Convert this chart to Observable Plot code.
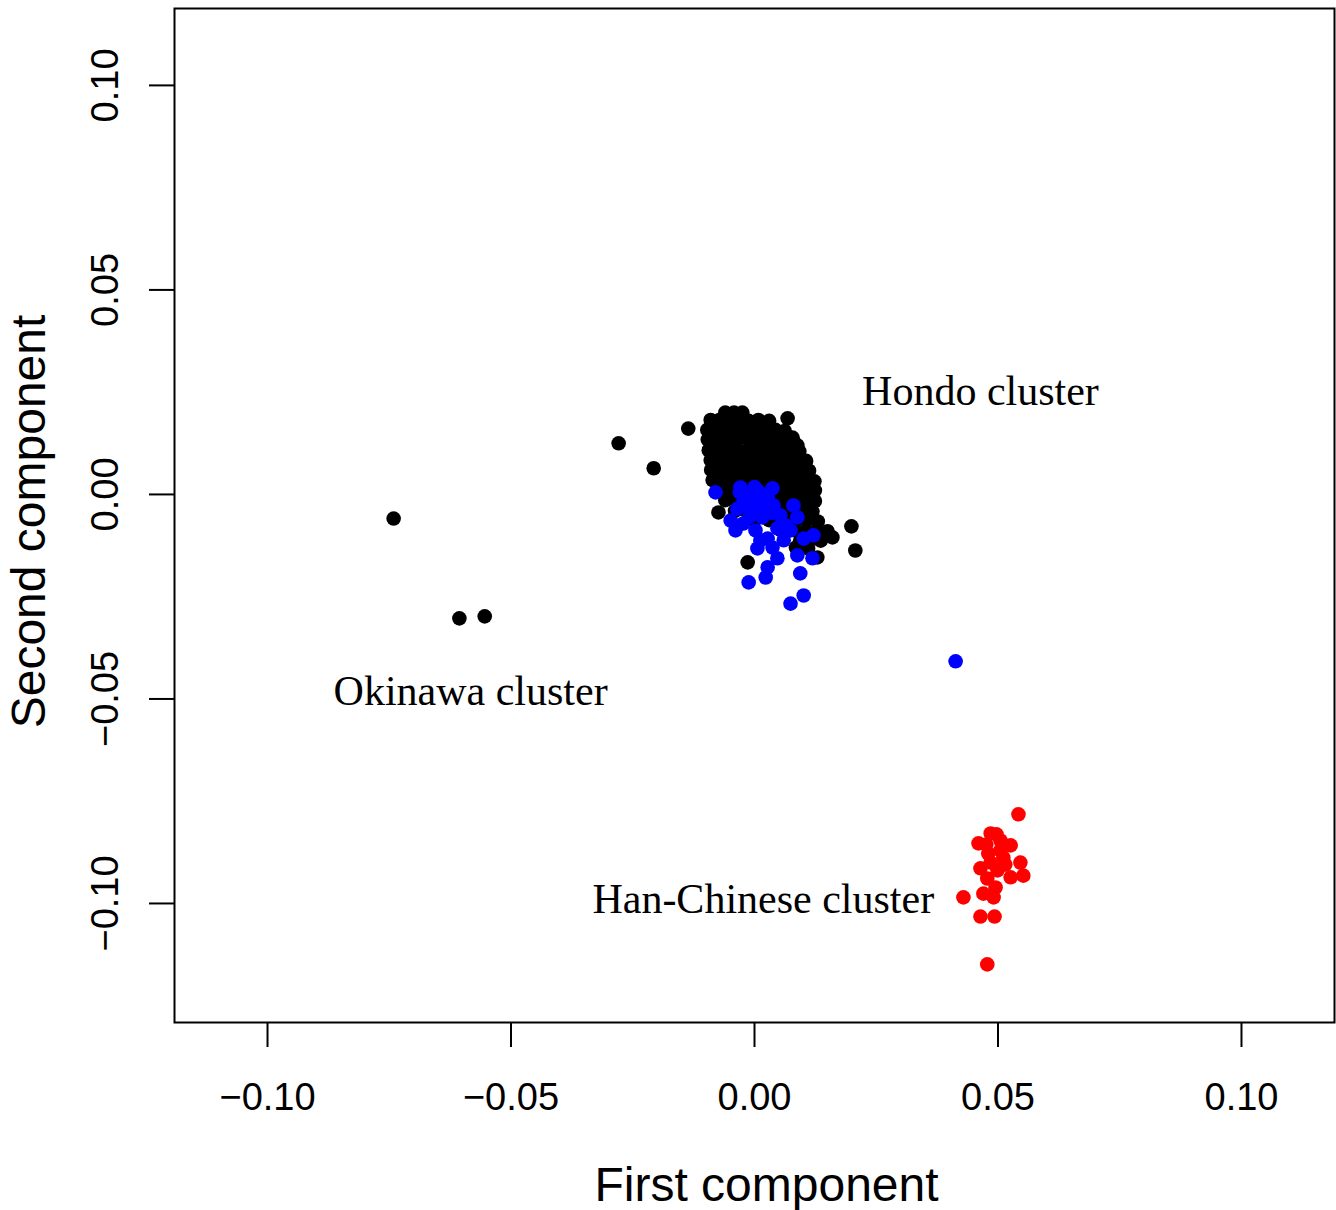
<!DOCTYPE html>
<html>
<head>
<meta charset="utf-8">
<script src="https://cdn.jsdelivr.net/npm/d3@7"></script>
<script src="https://cdn.jsdelivr.net/npm/@observablehq/plot@0.6"></script>
<style>
  html, body { margin: 0; padding: 0; background: #fff; }
  svg { display: block; }
</style>
</head>
<body>
<div id="chart"></div>
<script>
// ---- data (first component, second component) ----
const hondo = [
  [-0.0741,-0.0059],[-0.0606,-0.0303],[-0.0554,-0.0298],[-0.0279,0.0125],[-0.0207,0.0064],[-0.0136,0.0161],
  [0.0199,-0.0078],[0.0207,-0.0137],[-0.0014,-0.0166],[0.0129,-0.0154],[0.0160,-0.0105],[-0.0074,-0.0044],
  [0.0068,0.0186],[0.0078,0.0139],[0.0088,0.0120],
  [-0.0060,0.0200],[-0.0042,0.0200],[-0.0025,0.0200],
  [-0.0090,0.0182],[-0.0072,0.0182],[-0.0052,0.0184],[-0.0033,0.0182],[-0.0012,0.0180],[0.0008,0.0182],[0.0030,0.0180],
  [-0.0097,0.0158],[-0.0078,0.0160],[-0.0058,0.0158],[-0.0038,0.0156],[-0.0018,0.0158],[0.0003,0.0160],[0.0022,0.0157],[0.0043,0.0158],[0.0062,0.0155],
  [-0.0096,0.0134],[-0.0075,0.0135],[-0.0055,0.0133],[-0.0035,0.0134],[-0.0015,0.0136],[0.0005,0.0133],[0.0025,0.0134],[0.0045,0.0135],[0.0063,0.0132],[0.0080,0.0130],
  [-0.0094,0.0108],[-0.0074,0.0110],[-0.0053,0.0108],[-0.0033,0.0107],[-0.0013,0.0109],[0.0008,0.0108],[0.0028,0.0110],[0.0048,0.0107],[0.0068,0.0108],[0.0092,0.0105],
  [-0.0090,0.0084],[-0.0070,0.0085],[-0.0050,0.0083],[-0.0030,0.0084],[-0.0010,0.0086],[0.0010,0.0083],[0.0030,0.0084],[0.0050,0.0085],[0.0070,0.0083],[0.0090,0.0084],[0.0106,0.0082],
  [-0.0089,0.0060],[-0.0068,0.0061],[-0.0048,0.0059],[-0.0028,0.0060],[-0.0008,0.0062],[0.0012,0.0059],[0.0032,0.0060],[0.0052,0.0061],[0.0072,0.0059],[0.0092,0.0060],[0.0112,0.0058],
  [-0.0086,0.0035],[-0.0065,0.0036],[-0.0045,0.0034],[-0.0025,0.0035],[-0.0005,0.0037],[0.0015,0.0034],[0.0035,0.0035],[0.0055,0.0036],[0.0075,0.0034],[0.0095,0.0035],[0.0112,0.0036],[0.0123,0.0032],
  [-0.0074,0.0012],[-0.0054,0.0013],[-0.0034,0.0011],[-0.0014,0.0012],[0.0006,0.0014],[0.0026,0.0011],[0.0046,0.0012],[0.0066,0.0013],[0.0086,0.0011],[0.0106,0.0012],[0.0124,0.0010],
  [-0.0060,-0.0014],[-0.0040,-0.0012],[0.0045,-0.0014],[0.0065,-0.0013],[0.0085,-0.0015],[0.0105,-0.0014],[0.0124,-0.0016],
  [-0.0040,-0.0040],[-0.0020,-0.0038],[0.0040,-0.0040],[0.0060,-0.0039],[0.0080,-0.0041],[0.0100,-0.0040],[0.0119,-0.0042],
  [0.0000,-0.0064],[0.0030,-0.0063],[0.0060,-0.0065],[0.0085,-0.0064],[0.0108,-0.0062],[0.0130,-0.0066],
  [0.0055,-0.0088],[0.0080,-0.0087],[0.0105,-0.0089],[0.0128,-0.0088],[0.0150,-0.0090],
  [0.0094,-0.0112],[0.0115,-0.0110],[0.0136,-0.0113],
  [0.0085,-0.0130],[0.0110,-0.0132]
];
const okinawa = [
  [-0.0080,0.0005],[-0.0029,0.0017],[0.0006,0.0010],[0.0037,0.0015],[0.0027,-0.0007],[-0.0023,-0.0020],
  [0.0008,-0.0032],[0.0039,-0.0027],[0.0080,-0.0027],[0.0016,-0.0056],[0.0088,-0.0056],[-0.0049,-0.0064],
  [-0.0023,-0.0071],[-0.0039,-0.0088],[0.0047,-0.0083],[0.0074,-0.0088],[0.0027,-0.0108],[0.0101,-0.0108],
  [0.0121,-0.0100],[0.0006,-0.0132],[0.0037,-0.0130],[0.0088,-0.0149],[0.0119,-0.0156],[0.0047,-0.0156],
  [0.0027,-0.0178],[0.0094,-0.0193],[0.0023,-0.0203],[-0.0012,-0.0215],[0.0101,-0.0247],[0.0074,-0.0267],
  [0.0413,-0.0408],
  [-0.0008,-0.0002],[0.0012,-0.0015],[0.0023,-0.0039],[-0.0008,-0.0039],[0.0053,-0.0051],[0.0064,-0.0076],
  [0.0002,-0.0088],[0.0012,-0.0112],[0.0060,-0.0112],
  [-0.0030,0.0005],[0.0000,0.0018],[0.0020,0.0000],[0.0015,-0.0025],[-0.0010,-0.0055],[0.0035,-0.0045],
  [-0.0035,-0.0035],[0.0030,-0.0020],[-0.0015,-0.0012]
];
const hanChinese = [
  [0.0542,-0.0782],[0.0485,-0.0829],[0.0460,-0.0853],[0.0505,-0.0846],[0.0526,-0.0858],[0.0480,-0.0878],
  [0.0511,-0.0888],[0.0546,-0.0900],[0.0464,-0.0914],[0.0499,-0.0919],[0.0552,-0.0932],[0.0478,-0.0939],
  [0.0526,-0.0936],[0.0495,-0.0961],[0.0429,-0.0985],[0.0470,-0.0976],[0.0491,-0.0985],[0.0464,-0.1032],
  [0.0493,-0.1032],[0.0478,-0.1149],
  [0.0505,-0.0870],[0.0485,-0.0900],[0.0515,-0.0905],[0.0476,-0.0856],[0.0497,-0.0831]
];
const clusterLabels = ["Hondo cluster", "Okinawa cluster", "Han-Chinese cluster"];
const clusterLabelX = [0.0464, -0.0583, 0.0018];
const clusterLabelY = [0.0218, -0.0516, -0.1024];
const xTicks = [-0.10, -0.05, 0.00, 0.05, 0.10];
const yTicks = [-0.10, -0.05, 0.00, 0.05, 0.10];
const xDomain = [-0.1191, 0.1191];
const yDomain = [-0.1291, 0.1188];

// ---- build ----
const toRows = (arr) => arr.map(([x, y]) => ({x, y}));
const labels = clusterLabels.map((t, i) => ({t, x: clusterLabelX[i], y: clusterLabelY[i]}));
const fmt = d3.format(".2f");

const sans = "'Liberation Sans', Arial, sans-serif";
const serif = "'Liberation Serif', 'Times New Roman', serif";

const chart = Plot.plot({
  width: 1336,
  height: 1210,
  marginLeft: 174,
  marginRight: 2,
  marginTop: 8,
  marginBottom: 188,
  style: {fontFamily: sans, background: "#fff", color: "#000"},
  x: {domain: xDomain, axis: null},
  y: {domain: yDomain, axis: null},
  marks: [
    Plot.frame({stroke: "#000", strokeWidth: 2}),
    Plot.axisX({ticks: xTicks, tickSize: 25, tickPadding: 36, tickFormat: fmt,
      fontSize: 38, stroke: "#000", strokeWidth: 2, fill: "#000", label: null}),
    Plot.axisY({ticks: yTicks, tickSize: 25, tickFormat: () => "",
      stroke: "#000", strokeWidth: 2, label: null}),
    Plot.text(yTicks, {x: xDomain[0], y: d => d, text: d => fmt(d), rotate: -90,
      dx: -57, textAnchor: "middle", lineAnchor: "bottom", fontSize: 38, fill: "#000"}),
    Plot.text(["First component"], {frameAnchor: "bottom", text: d => d, dx: 12, dy: 178,
      lineAnchor: "bottom", fontSize: 48, fill: "#000"}),
    Plot.text(["Second component"], {frameAnchor: "left", text: d => d, rotate: -90,
      dx: -130, dy: 6, lineAnchor: "bottom", textAnchor: "middle", fontSize: 48, fill: "#000"}),
    Plot.dot(toRows(hondo), {x: "x", y: "y", r: 7.3, fill: "#000"}),
    Plot.dot(toRows(okinawa), {x: "x", y: "y", r: 7.3, fill: "#0000ff"}),
    Plot.dot(toRows(hanChinese), {x: "x", y: "y", r: 7.3, fill: "#ff0000"}),
    Plot.text(labels, {x: "x", y: "y", text: "t", textAnchor: "middle", lineAnchor: "bottom",
      fontFamily: serif, fontSize: 42, fill: "#000"})
  ]
});
document.getElementById("chart").appendChild(chart);
</script>
</body>
</html>
